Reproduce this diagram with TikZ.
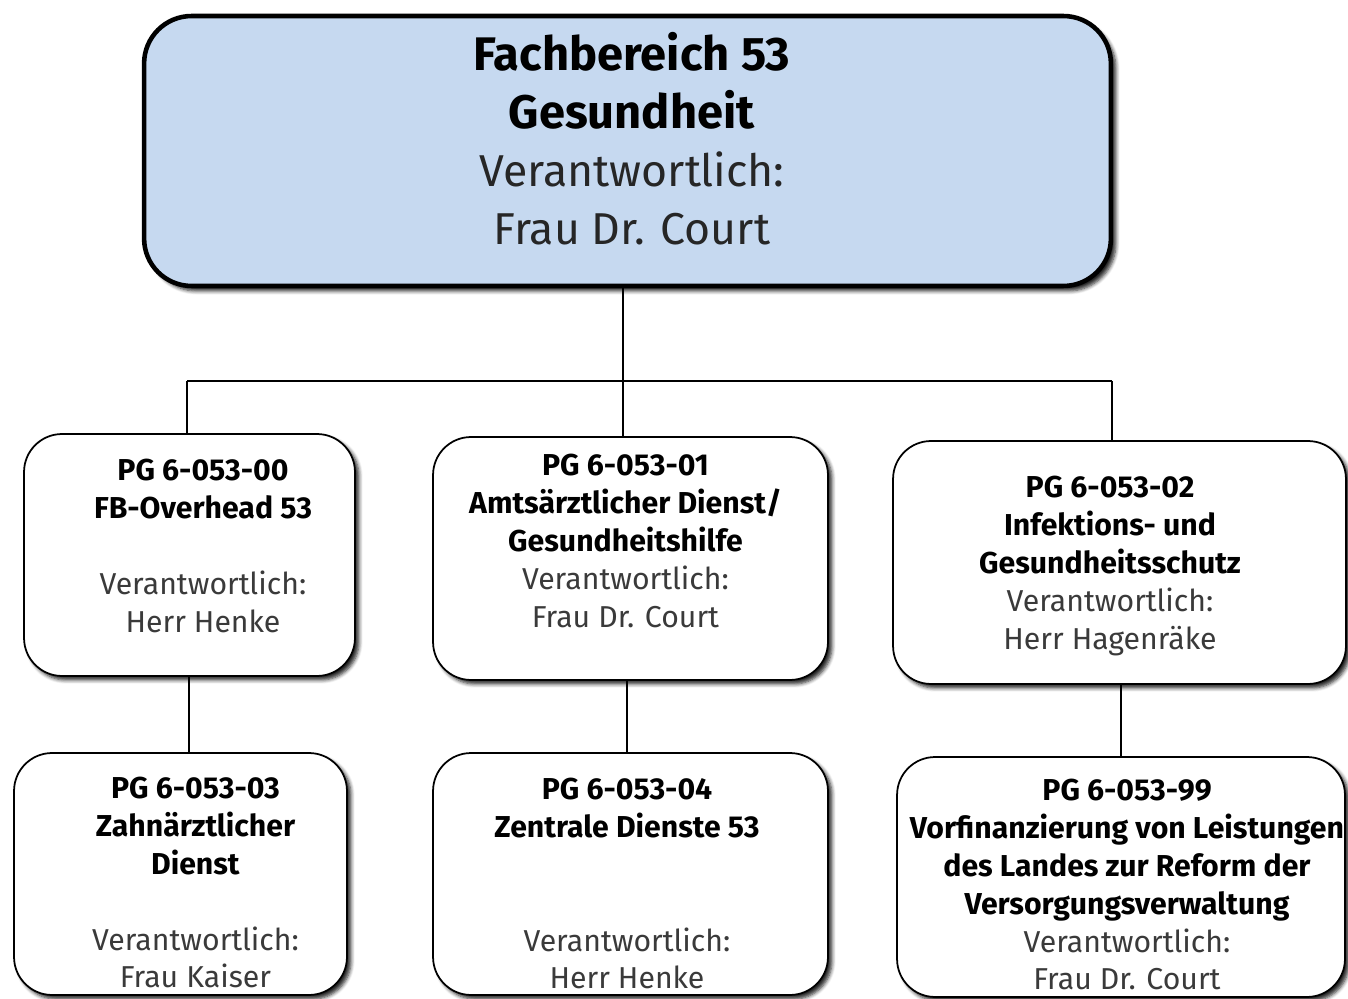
\documentclass[tikz,border=0pt]{standalone}
\usepackage{fontspec}
\setmainfont{Fira Sans}
\usetikzlibrary{shadows.blur}
\definecolor{topblue}{HTML}{C6D9F0}
\definecolor{txtgrey}{HTML}{3A3A3A}
\definecolor{toptxt}{HTML}{262626}
\newcommand\pgb[1]{\textbf{#1}}
\newcommand\pgr[1]{\textcolor{txtgrey}{#1}}
\newcommand\topr[1]{{\fontsize{25.4}{33}\selectfont\textcolor{toptxt}{#1}}}
\begin{document}
\begin{tikzpicture}[x=0.02cm,y=-0.02cm,
  topbox/.style={draw=black, line width=2.6pt, fill=topblue, rounded corners=0.95cm,
    inner sep=0pt, minimum width=19.34cm, minimum height=5.4cm,
    blur shadow={shadow xshift=0.1cm, shadow yshift=-0.1cm, shadow blur steps=6, shadow opacity=85}},
  pgbox/.style={draw=black, line width=1pt, fill=white, rounded corners=0.76cm,
    inner sep=0pt, minimum height=4.84cm,
    blur shadow={shadow xshift=0.08cm, shadow yshift=-0.08cm, shadow blur steps=5, shadow opacity=85}},
  toptext/.style={anchor=north, inner sep=0pt, align=center, font=\fontsize{26.8}{33}\selectfont},
  pgtext/.style={anchor=north, inner sep=0pt, align=center, font=\fontsize{17.2}{21.6}\selectfont},
  link/.style={line width=1.5pt, draw=black}]
\useasboundingbox (0,0) rectangle (1348,999);

% boxes
\node[topbox] (top) at (627.5,151) {};
\node[pgbox, minimum width=6.62cm] (b00) at (189.5,555) {};
\node[pgbox, minimum width=7.9cm, minimum height=4.86cm] (b01) at (630.5,558.5) {};
\node[pgbox, minimum width=9.06cm, minimum height=4.86cm] (b02) at (1119.5,562.5) {};
\node[pgbox, minimum width=6.66cm] (b03) at (180.5,874) {};
\node[pgbox, minimum width=7.9cm] (b04) at (630.5,874) {};
\node[pgbox, minimum width=8.96cm, minimum height=4.8cm] (b99) at (1121,877) {};

% texts
\node[toptext] (ttop) at (632,29.2) {\pgb{\strut Fachbereich 53}\\\pgb{Gesundheit}\\\topr{Verantwortlich:}\\\topr{Frau Dr. Court}};
\node[pgtext] (t00) at (203,453.3) {\pgb{\strut PG 6-053-00}\\\pgb{FB-Overhead 53}\\[21.6pt]\pgr{Verantwortlich:}\\\pgr{Herr Henke}};
\node[pgtext] (t01) at (625.5,448.3) {\pgb{\strut PG 6-053-01}\\\pgb{Amtsärztlicher Dienst/}\\\pgb{Gesundheitshilfe}\\\pgr{Verantwortlich:}\\\pgr{Frau Dr. Court}};
\node[pgtext] (t02) at (1110,470.3) {\pgb{\strut PG 6-053-02}\\\pgb{Infektions- und}\\\pgb{Gesundheitsschutz}\\\pgr{Verantwortlich:}\\\pgr{Herr Hagenräke}};
\node[pgtext] (t03) at (195.5,771.3) {\pgb{\strut PG 6-053-03}\\\pgb{Zahnärztlicher}\\\pgb{Dienst}\\[21.6pt]\pgr{Verantwortlich:}\\\pgr{Frau Kaiser}};
\node[pgtext] (t04) at (627,772.3) {\pgb{\strut PG 6-053-04}\\\pgb{Zentrale Dienste 53}\\[43.2pt]\pgr{Verantwortlich:}\\\pgr{Herr Henke}};
\node[pgtext] (t99) at (1127,773.3) {\pgb{\strut PG 6-053-99}\\\pgb{Vorfinanzierung von Leistungen}\\\pgb{des Landes zur Reform der}\\\pgb{Versorgungsverwaltung}\\\pgr{Verantwortlich:}\\\pgr{Frau Dr. Court}};

% connectors
\coordinate (bus) at (623,381);
\coordinate (j0) at (187,381);
\coordinate (j2) at (1112,381);
\coordinate (v0) at (189,700);
\coordinate (v1) at (627,700);
\coordinate (v2) at (1121,700);
\draw[link] (top.south -| bus) -- (b01.north -| bus);
\draw[link] (j0) -- (j2);
\draw[link] (j0) -- (b00.north -| j0);
\draw[link] (j2) -- (b02.north -| j2);
\draw[link] (b00.south -| v0) -- (b03.north -| v0);
\draw[link] (b01.south -| v1) -- (b04.north -| v1);
\draw[link] (b02.south -| v2) -- (b99.north -| v2);
\end{tikzpicture}
\end{document}
